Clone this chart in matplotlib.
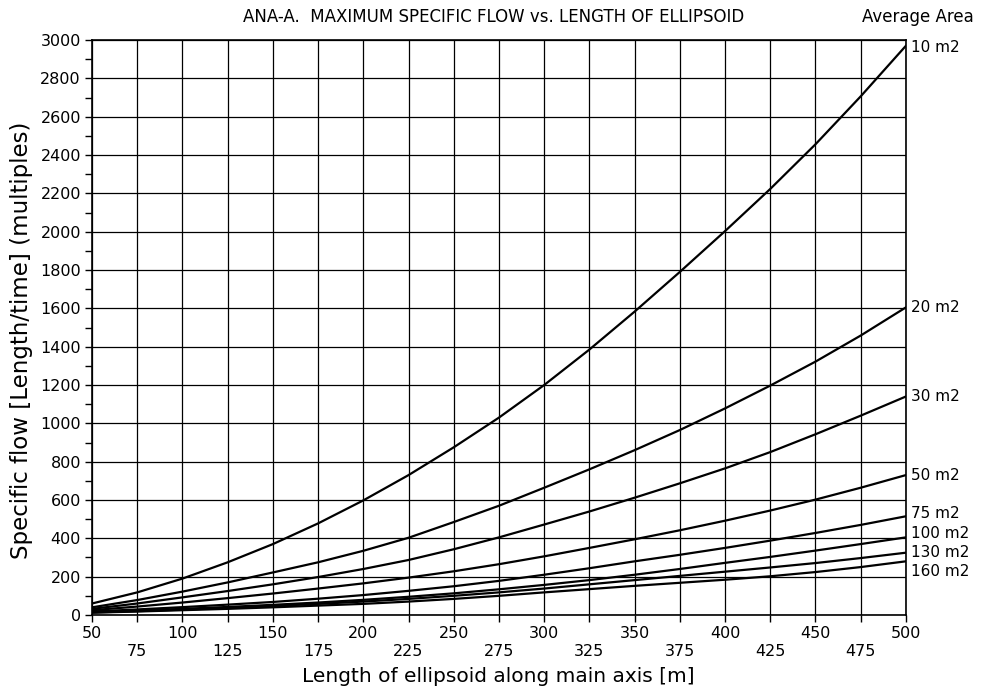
import matplotlib
matplotlib.use("Agg")
import matplotlib.pyplot as plt
import numpy as np

# length of ellipsoid along main axis [m]
length = [50, 75, 100, 125, 150, 175, 200, 225, 250, 275, 300, 325, 350, 375, 400, 425, 450, 475, 500]

# specific flow for each average area
flow_10 = [60, 118, 190, 275, 370, 478, 598, 730, 875, 1030, 1200, 1385, 1583, 1790, 2003, 2223, 2456, 2706, 2970]
flow_20 = [40, 78, 122, 170, 222, 275, 335, 403, 485, 570, 664, 760, 860, 965, 1078, 1197, 1322, 1458, 1605]
flow_30 = [32, 60, 92, 125, 160, 198, 240, 287, 343, 405, 472, 540, 612, 687, 765, 850, 943, 1040, 1140]
flow_50 = [25, 44, 65, 88, 112, 138, 165, 195, 228, 265, 306, 350, 395, 442, 492, 545, 602, 664, 730]
flow_75 = [18, 29, 41, 54, 68, 85, 104, 126, 150, 178, 210, 244, 280, 314, 350, 388, 428, 470, 515]
flow_100 = [15, 23, 32, 42, 53, 65, 79, 95, 113, 134, 157, 182, 210, 240, 272, 303, 336, 370, 405]
flow_130 = [13, 20, 28, 37, 47, 58, 70, 84, 100, 118, 138, 160, 182, 204, 226, 248, 271, 297, 325]
flow_160 = [12, 18, 25, 32, 40, 49, 58, 70, 84, 100, 118, 135, 152, 168, 184, 202, 224, 250, 280]

area_labels = ["10 m2", "20 m2", "30 m2", "50 m2", "75 m2", "100 m2", "130 m2", "160 m2"]
label_y = [2960, 1605, 1140, 730, 527, 423, 324, 225]

series = [flow_10, flow_20, flow_30, flow_50, flow_75, flow_100, flow_130, flow_160]

plt.rcParams["font.family"] = ["DejaVu Sans"]

fig = plt.figure(figsize=(9.9, 6.91), dpi=100)
ax = fig.add_axes([0.093, 0.110, 0.822, 0.832])

for s in series:
    ax.plot(length, s, color="black", lw=1.6, zorder=3, solid_joinstyle="round")

ax.set_xlim(50, 500)
ax.set_ylim(0, 3000)

ax.set_xticks(np.arange(50, 501, 50))
ax.set_xticks(np.arange(75, 476, 50), minor=True)
ax.set_xticklabels([str(v) for v in range(50, 501, 50)])
ax.set_xticklabels([str(v) for v in range(75, 476, 50)], minor=True)
ax.set_yticks(np.arange(0, 3001, 200))
ax.set_yticks(np.arange(100, 3000, 200), minor=True)

ax.tick_params(axis="x", which="major", direction="out", length=5, width=1, pad=3, labelsize=11.5)
ax.tick_params(axis="x", which="minor", direction="out", length=5, width=1, pad=16, labelsize=11.5)
ax.tick_params(axis="y", which="both", direction="out", length=5, width=1, pad=3, labelsize=11.5)

ax.xaxis.grid(True, which="both", color="black", lw=0.9)
ax.yaxis.grid(True, which="major", color="black", lw=0.9)
ax.set_axisbelow(True)

for sp in ax.spines.values():
    sp.set_color("black")
    sp.set_linewidth(1.2)

for lab, yy in zip(area_labels, label_y):
    ax.text(503, yy, lab, fontsize=11, va="center", ha="left", clip_on=False)

fig.text(498 / 990, 1 - 677 / 691, "Length of ellipsoid along main axis [m]",
         fontsize=14.5, ha="center", va="center")
fig.text(22 / 990, 1 - 340 / 691, "Specific flow [Length/time] (multiples)",
         fontsize=16.5, ha="center", va="center", rotation=90)

fig.text(494 / 990, 1 - 17 / 691, "ANA-A.  MAXIMUM SPECIFIC FLOW vs. LENGTH OF ELLIPSOID",
         fontsize=12, ha="center", va="center")
fig.text(918 / 990, 1 - 17 / 691, "Average Area", fontsize=12, ha="center", va="center")

fig.savefig("out.png", dpi=100)
